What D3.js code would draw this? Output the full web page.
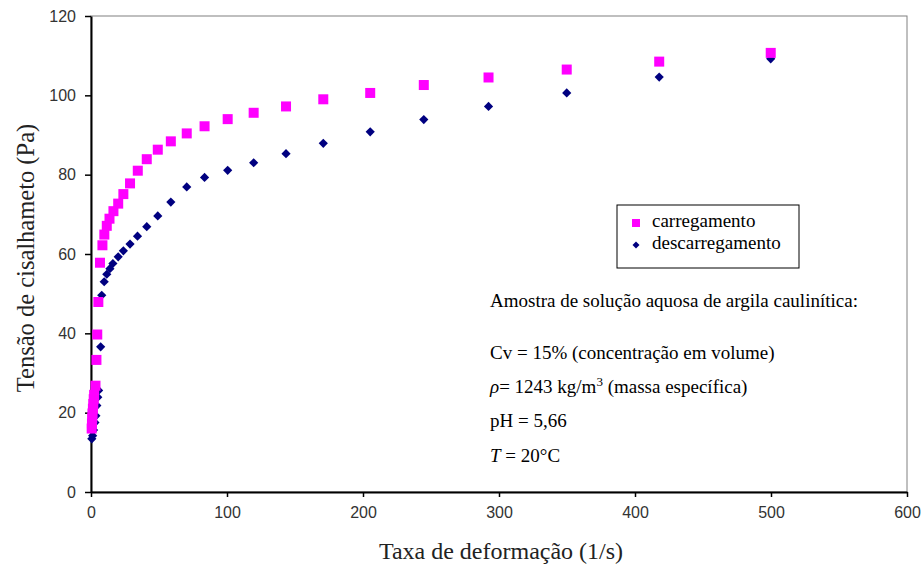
<!DOCTYPE html>
<html>
<head>
<meta charset="utf-8">
<script src="https://cdn.jsdelivr.net/npm/d3@7"></script>
<style>
  body { margin: 0; background: #fff; }
  svg { display: block; }
</style>
</head>
<body>
<svg width="923" height="564"></svg>
<script>
// Data: [shear rate (1/s), shear stress (Pa)]
var carregamento = [
  [0.5, 16.0], [0.7, 17.3], [0.9, 18.6], [1.1, 19.8], [1.4, 21.0], [1.7, 22.2],
  [2.0, 23.4], [2.3, 24.5], [3.3, 26.8], [4.0, 33.3], [4.6, 39.7], [5.4, 47.9],
  [6.6, 57.8], [8.4, 62.2], [9.8, 64.9], [11.6, 67.1], [13.6, 68.9], [16.5, 70.8],
  [20.0, 72.7], [23.8, 75.1], [28.7, 77.8], [34.4, 81.0], [41.0, 83.9], [49.1, 86.3],
  [58.7, 88.4], [70.4, 90.4], [83.5, 92.2], [100.5, 94.0], [119.6, 95.6], [143.4, 97.2],
  [170.8, 99.0], [205.3, 100.6], [244.7, 102.6], [292.3, 104.5], [349.8, 106.5],
  [417.8, 108.5], [499.8, 110.7]
];
var descarregamento = [
  [0.6, 13.4], [1.2, 14.2], [1.9, 15.6], [2.9, 17.5], [3.6, 19.2], [4.3, 21.8],
  [5.0, 23.9], [5.6, 25.6], [7.1, 36.6], [7.9, 49.6], [9.7, 53.0], [11.6, 54.9],
  [13.9, 56.3], [16.1, 57.6], [20.0, 59.3], [23.8, 60.8], [28.7, 62.5], [34.2, 64.5],
  [41.0, 66.9], [49.1, 69.6], [58.7, 73.1], [70.4, 76.9], [83.5, 79.3], [100.5, 81.1],
  [119.6, 83.0], [143.4, 85.3], [170.8, 87.9], [205.3, 90.8], [244.7, 93.9],
  [292.3, 97.2], [349.8, 100.6], [417.8, 104.6], [499.8, 109.2]
];
var xTicks = [0, 100, 200, 300, 400, 500, 600];
var yTicks = [0, 20, 40, 60, 80, 100, 120];
var seriesNames = ["carregamento", "descarregamento"];
var notes = [
  "Amostra de solução aquosa de argila caulinítica:",
  "Cv = 15% (concentração em volume)",
  "= 1243 kg/m",
  "pH = 5,66",
  "= 20°C"
];

var svg = d3.select("svg"),
    margin = {top: 16, right: 16, bottom: 72, left: 91},
    width = 923 - margin.left - margin.right,
    height = 564 - margin.top - margin.bottom;

var serif = "'Liberation Serif', 'Times New Roman', serif";
var sans = "'Liberation Sans', Arial, sans-serif";

var x = d3.scaleLinear().domain([0, 600]).range([0, width]);
var y = d3.scaleLinear().domain([0, 120]).range([height, 0]);

var g = svg.append("g")
    .attr("transform", "translate(" + margin.left + "," + margin.top + ")");

// plot frame (top / right)
g.append("rect")
    .attr("width", width)
    .attr("height", height)
    .attr("fill", "none")
    .attr("stroke", "#808080")
    .attr("stroke-width", 1);

// axes
var xAxis = g.append("g")
    .attr("transform", "translate(0," + height + ")")
    .call(d3.axisBottom(x).tickValues(xTicks).tickSize(5).tickSizeOuter(0).tickPadding(10));
var yAxis = g.append("g")
    .call(d3.axisLeft(y).tickValues(yTicks).tickSize(6).tickSizeOuter(0).tickPadding(9));

[xAxis, yAxis].forEach(function(a) {
  a.select(".domain").attr("stroke", "#000").attr("stroke-width", 2);
  a.selectAll(".tick line").attr("stroke", "#000").attr("stroke-width", 1.5);
  a.selectAll(".tick text")
      .attr("fill", "#333")
      .style("font-family", sans)
      .style("font-size", "16px");
});

// markers
var diamond = function(r) {
  return "M0," + (-r) + "L" + r + ",0L0," + r + "L" + (-r) + ",0Z";
};

g.append("g").selectAll("path")
    .data(descarregamento)
    .enter().append("path")
    .attr("d", diamond(4.6))
    .attr("transform", function(d) { return "translate(" + x(d[0]) + "," + y(d[1]) + ")"; })
    .attr("fill", "#000080");

g.append("g").selectAll("rect")
    .data(carregamento)
    .enter().append("rect")
    .attr("x", function(d) { return x(d[0]) - 5; })
    .attr("y", function(d) { return y(d[1]) - 5; })
    .attr("width", 10)
    .attr("height", 10)
    .attr("fill", "#ff00ff");

// axis titles
svg.append("text")
    .attr("x", margin.left + width / 2 + 2)
    .attr("y", 559)
    .attr("text-anchor", "middle")
    .style("font-family", serif)
    .style("font-size", "24px")
    .attr("fill", "#222")
    .text("Taxa de deformação (1/s)");

svg.append("text")
    .attr("transform", "translate(34," + (margin.top + height / 2 + 4) + ") rotate(-90)")
    .attr("text-anchor", "middle")
    .style("font-family", serif)
    .style("font-size", "24.5px")
    .attr("fill", "#222")
    .text("Tensão de cisalhameto (Pa)");

// legend
var legend = svg.append("g").attr("transform", "translate(617,205)");
legend.append("rect")
    .attr("width", 182)
    .attr("height", 63)
    .attr("fill", "#fff")
    .attr("stroke", "#000")
    .attr("stroke-width", 1);
legend.append("rect")
    .attr("x", 15).attr("y", 14).attr("width", 8).attr("height", 8)
    .attr("fill", "#ff00ff");
legend.append("path")
    .attr("d", diamond(3.5))
    .attr("transform", "translate(19,40)")
    .attr("fill", "#000080");
legend.selectAll(".lt")
    .data(seriesNames)
    .enter().append("text")
    .attr("class", "lt")
    .attr("x", 35)
    .attr("y", function(d, i) { return 22 + i * 21.5; })
    .style("font-family", serif)
    .style("font-size", "19px")
    .attr("fill", "#000")
    .text(function(d) { return d; });

// annotation
var note = svg.append("g")
    .style("font-family", serif)
    .style("font-size", "19px")
    .attr("fill", "#000");
note.append("text").attr("x", 490).attr("y", 307).text(notes[0]);
note.append("text").attr("x", 490).attr("y", 359).text(notes[1]);
var rho = note.append("text").attr("x", 490).attr("y", 393);
rho.append("tspan").style("font-style", "italic").text("ρ");
rho.append("tspan").text(notes[2]);
rho.append("tspan").attr("dy", -7).style("font-size", "13px").text("3");
rho.append("tspan").attr("dy", 7).text(" (massa específica)");
note.append("text").attr("x", 490).attr("y", 427).text(notes[3]);
var temp = note.append("text").attr("x", 490).attr("y", 462);
temp.append("tspan").style("font-style", "italic").text("T");
temp.append("tspan").text(" " + notes[4]);
</script>
</body>
</html>
